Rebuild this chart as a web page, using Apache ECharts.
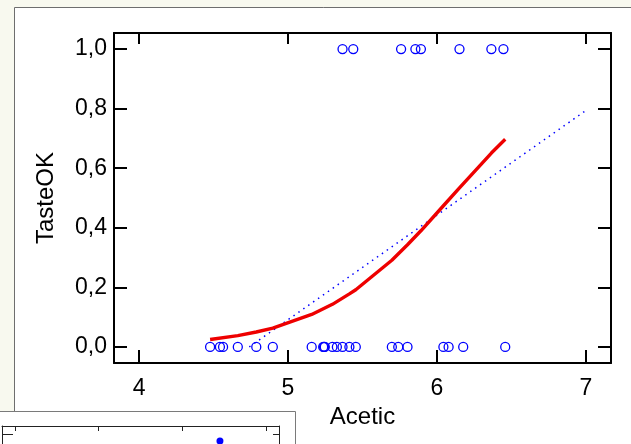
<!DOCTYPE html>
<html>
<head>
<meta charset="utf-8">
<script src="https://cdn.jsdelivr.net/npm/echarts@6/dist/echarts.min.js"></script>
<style>
  html, body { margin: 0; padding: 0; background: #f8f9ef; }
  #chart { width: 631px; height: 444px; }
</style>
</head>
<body>
<div id="chart"></div>
<script>
// observations: acetic and whether taste was OK (0/1)
const acetic = [4.543, 5.159, 5.366, 5.759, 4.663, 5.697, 5.892, 6.078, 4.898, 5.242,
  5.740, 6.446, 4.477, 5.236, 6.151, 6.365, 4.787, 5.412, 5.247, 5.438,
  4.564, 5.298, 5.455, 5.855, 5.366, 6.043, 6.458, 5.328, 5.802, 6.176]
const tasteOK = [0, 0, 1, 1, 0, 0, 1, 0, 0, 0,
  0, 1, 0, 0, 1, 1, 0, 0, 0, 1,
  0, 0, 0, 1, 0, 0, 0, 0, 0, 0]

// logistic fit (red)
const fitX = [4.477, 4.663, 4.787, 4.898, 5.159, 5.298, 5.412, 5.455, 5.697, 5.802, 5.892, 6.043, 6.151, 6.365, 6.458]
const fitP = [0.025, 0.038, 0.050, 0.063, 0.109, 0.143, 0.178, 0.192, 0.291, 0.343, 0.390, 0.474, 0.534, 0.651, 0.697]

// linear fit (blue dotted)
const linX = [4.74, 7.0]
const linY = [0.0, 0.794]

const xTicks = [4, 5, 6, 7]
const yTicks = [0, 0.2, 0.4, 0.6, 0.8, 1.0]

// fragment of the chart below (inset)
const insetTicks = [0, 10, 20, 30]
const insetYTick = [5.6]
const insetPoint = [[24.5, 1.7]]

const FONT = 'Liberation Sans, Arial, sans-serif'
const BLUE = '#0000ff'

const frameAxis = (extra) => Object.assign({
  type: 'value',
  axisLine: { show: true, onZero: false, lineStyle: { color: '#000', width: 2 } },
  splitLine: { show: false },
  axisLabel: { show: false },
  axisTick: { show: true, inside: true, length: 13, lineStyle: { color: '#000', width: 2 } }
}, extra)

const chart = echarts.init(document.getElementById('chart'))

chart.setOption({
  backgroundColor: '#f8f9ef',
  animation: false,
  graphic: [
    {
      type: 'rect', z: -10,
      shape: { x: 14.5, y: 7.5, width: 640, height: 460 },
      style: { fill: '#fff', stroke: '#6e6e6e', lineWidth: 1 }
    },
    {
      type: 'rect', z: -9,
      shape: { x: -2, y: 411.5, width: 297.5, height: 60 },
      style: { fill: '#fff', stroke: '#7a7a7a', lineWidth: 1 }
    }
  ],
  grid: [
    { left: 114, top: 33, width: 497, height: 330 },
    { left: 2, top: 426, width: 277, height: 18 }
  ],
  xAxis: [
    frameAxis({
      gridIndex: 0, position: 'bottom', min: 3.832, max: 7.168,
      name: 'Acetic', nameLocation: 'middle', nameGap: 37,
      nameTextStyle: { fontSize: 24, color: '#000', fontFamily: FONT },
      axisTick: { show: true, inside: true, length: 13, customValues: xTicks, lineStyle: { color: '#000', width: 2 } },
      axisLabel: { show: true, customValues: xTicks, margin: 14, fontSize: 23, color: '#000', fontFamily: FONT }
    }),
    frameAxis({
      gridIndex: 0, position: 'top', min: 3.832, max: 7.168,
      axisTick: { show: true, inside: true, length: 11, customValues: xTicks, lineStyle: { color: '#000', width: 2 } }
    }),
    frameAxis({
      gridIndex: 1, position: 'top', min: -1.56, max: 31.56,
      axisLine: { show: true, onZero: false, lineStyle: { color: '#222', width: 1 } },
      axisTick: { show: true, inside: true, length: 5, customValues: insetTicks, lineStyle: { color: '#222', width: 1 } }
    }),
    frameAxis({
      gridIndex: 1, position: 'bottom', min: -1.56, max: 31.56,
      axisLine: { show: false }, axisTick: { show: false }
    })
  ],
  yAxis: [
    frameAxis({
      gridIndex: 0, position: 'left', min: -0.054, max: 1.054,
      name: 'TasteOK', nameLocation: 'middle', nameGap: 56, nameRotate: 90,
      nameTextStyle: { fontSize: 24, color: '#000', fontFamily: FONT },
      axisTick: { show: true, inside: true, length: 13, customValues: yTicks, lineStyle: { color: '#000', width: 2 } },
      axisLabel: {
        show: true, customValues: yTicks, margin: 7, fontSize: 23, color: '#000', fontFamily: FONT,
        formatter: v => v.toFixed(1).replace('.', ',')
      }
    }),
    frameAxis({
      gridIndex: 0, position: 'right', min: -0.054, max: 1.054,
      axisTick: { show: true, inside: true, length: 13, customValues: yTicks, lineStyle: { color: '#000', width: 2 } }
    }),
    frameAxis({
      gridIndex: 1, position: 'left', min: 0, max: 10,
      axisLine: { show: true, onZero: false, lineStyle: { color: '#222', width: 1 } },
      axisTick: { show: true, inside: true, length: 11, customValues: insetYTick, lineStyle: { color: '#222', width: 1 } }
    }),
    frameAxis({
      gridIndex: 1, position: 'right', min: 0, max: 10,
      axisLine: { show: true, onZero: false, lineStyle: { color: '#222', width: 1 } },
      axisTick: { show: true, inside: true, length: 6, customValues: insetYTick, lineStyle: { color: '#222', width: 1 } }
    })
  ],
  series: [
    {
      type: 'scatter', xAxisIndex: 0, yAxisIndex: 0,
      symbol: 'circle', symbolSize: 9,
      itemStyle: { color: 'rgba(0,0,0,0)', borderColor: BLUE, borderWidth: 1.3, opacity: 1 },
      data: acetic.map((a, i) => [a, tasteOK[i]])
    },
    {
      type: 'line', xAxisIndex: 0, yAxisIndex: 0,
      showSymbol: false,
      lineStyle: { color: BLUE, width: 1.5, type: [1.5, 4.5] },
      data: linX.map((x, i) => [x, linY[i]])
    },
    {
      type: 'line', xAxisIndex: 0, yAxisIndex: 0,
      showSymbol: false,
      lineStyle: { color: '#ee0000', width: 3.4 },
      data: fitX.map((x, i) => [x, fitP[i]])
    },
    {
      type: 'scatter', xAxisIndex: 2, yAxisIndex: 2,
      symbolSize: 7,
      itemStyle: { color: BLUE, opacity: 1 },
      data: insetPoint
    }
  ]
})
</script>
</body>
</html>
